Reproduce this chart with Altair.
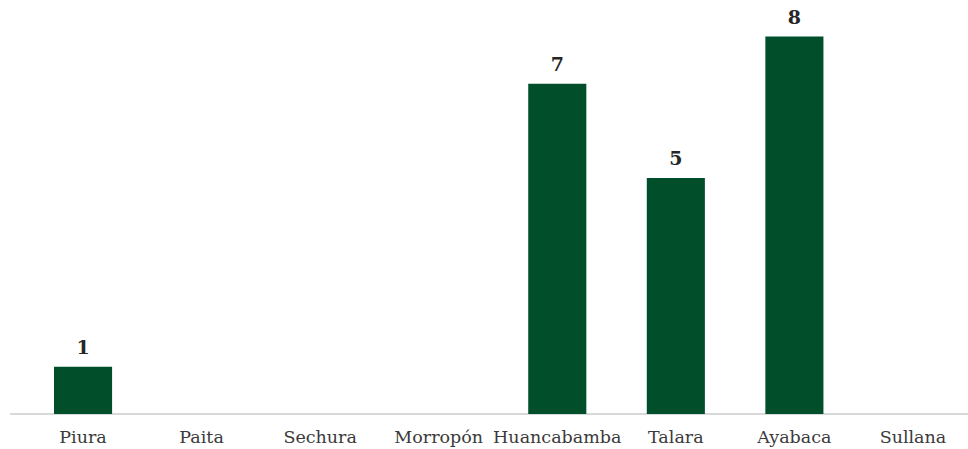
import altair as alt
import pandas as pd

provincias = ["Piura", "Paita", "Sechura", "Morropón", "Huancabamba", "Talara", "Ayabaca", "Sullana"]
valores = [1, 0, 0, 0, 7, 5, 8, 0]
etiquetas = ["1", "", "", "", "7", "5", "8", ""]

df = pd.DataFrame({"provincia": provincias, "valor": valores, "etiqueta": etiquetas})

W = 944
H = 377.5
FONT = "DejaVu Serif"

x = alt.X("provincia:N", sort=provincias,
          scale=alt.Scale(paddingInner=0.51, paddingOuter=0.253, range=[0, 948]),
          axis=alt.Axis(title=None, labelAngle=0, domain=False, ticks=False,
                        labelFont=FONT, labelFontSize=17.5, labelColor="#3A3A3A",
                        labelPadding=14))
y = alt.Y("valor:Q", scale=alt.Scale(domain=[0, 8], nice=False),
          axis=None)

bars = alt.Chart(df).mark_bar(color="#004F2A").encode(x=x, y=y)
text = alt.Chart(df).mark_text(dy=-19, font=FONT, fontSize=19, fontWeight="bold",
                               color="#262626").encode(x=x, y=y, text="etiqueta:N")
rule = alt.Chart(df).mark_rule(color="#D9D9D9", strokeWidth=1.5).encode(
    x=alt.value(-14), x2=alt.value(W), y=alt.value(H))

chart = alt.layer(rule, bars, text).properties(
    width=W, height=H,
    padding={"left": 24, "top": 36.5, "right": 0, "bottom": 35},
    autosize=alt.AutoSizeParams(type="none"),
    background="white",
).configure_view(stroke=None, strokeWidth=0)

chart.save("out.html", embed_options={"renderer": "svg", "actions": False})
